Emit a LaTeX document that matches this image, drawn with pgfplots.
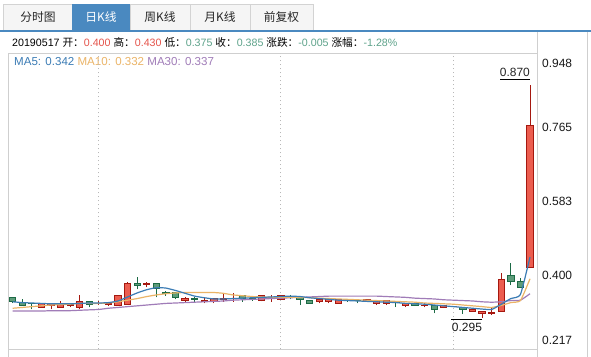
\documentclass[border=0pt]{standalone}
\usepackage{pgfplots}
\pgfplotsset{compat=1.18}
\usepackage{pgfplotstable}
\usepackage{fontspec}
\setmainfont{Liberation Sans}
\newfontfamily\cjk{Noto Sans CJK SC}

\definecolor{upfill}{HTML}{EC5D4F}
\definecolor{updraw}{HTML}{A5180F}
\definecolor{dnfill}{HTML}{5E9C7A}
\definecolor{dndraw}{HTML}{1C6A45}
\definecolor{mafive}{HTML}{3B7CB5}
\definecolor{maten}{HTML}{EBB467}
\definecolor{mathirty}{HTML}{A07CB8}
\definecolor{tabblue}{HTML}{4A89C0}
\definecolor{tabbg}{HTML}{F5F5F5}
\definecolor{tabline}{HTML}{D3D3D3}
\definecolor{frameline}{HTML}{CFCFCF}
\definecolor{infored}{HTML}{E5544B}
\definecolor{infogrn}{HTML}{5EA38B}

% daily candles: index, open, high, low, close
\pgfplotstableread{
i o h l c
1 0.345 0.347 0.331 0.334
2 0.332 0.340 0.324 0.325
3 0.330 0.332 0.315 0.329
4 0.320 0.331 0.320 0.330
5 0.325 0.331 0.315 0.330
6 0.320 0.336 0.319 0.330
7 0.326 0.331 0.320 0.328
8 0.320 0.351 0.315 0.334
9 0.334 0.335 0.320 0.327
10 0.329 0.335 0.327 0.331
11 0.327 0.333 0.324 0.330
12 0.324 0.351 0.323 0.350
13 0.327 0.384 0.326 0.380
14 0.380 0.396 0.365 0.374
15 0.377 0.382 0.370 0.379
16 0.380 0.381 0.345 0.366
17 0.356 0.361 0.349 0.355
18 0.357 0.359 0.340 0.344
19 0.338 0.345 0.334 0.341
20 0.341 0.345 0.334 0.339
21 0.335 0.343 0.330 0.338
22 0.334 0.343 0.330 0.342
23 0.340 0.355 0.334 0.342
24 0.341 0.355 0.334 0.343
25 0.350 0.351 0.334 0.343
26 0.343 0.345 0.336 0.341
27 0.336 0.351 0.335 0.350
28 0.342 0.352 0.334 0.344
29 0.340 0.351 0.339 0.350
30 0.346 0.351 0.340 0.345
31 0.345 0.346 0.326 0.340
32 0.336 0.337 0.329 0.330
33 0.334 0.341 0.330 0.340
34 0.334 0.341 0.330 0.340
35 0.330 0.341 0.329 0.340
36 0.340 0.341 0.334 0.338
37 0.338 0.341 0.330 0.337
38 0.334 0.341 0.333 0.340
39 0.330 0.337 0.326 0.336
40 0.330 0.337 0.326 0.336
41 0.333 0.336 0.321 0.332
42 0.325 0.331 0.321 0.330
43 0.330 0.331 0.325 0.326
44 0.324 0.330 0.320 0.326
45 0.326 0.327 0.305 0.315
46 0.320 0.326 0.318 0.325
47 0.322 0.324 0.320 0.322
48 0.320 0.321 0.304 0.315
49 0.310 0.317 0.309 0.316
50 0.305 0.312 0.295 0.311
51 0.306 0.322 0.301 0.308
52 0.310 0.405 0.309 0.390
53 0.400 0.430 0.375 0.385
54 0.384 0.392 0.369 0.370
55 0.419 0.870 0.418 0.770
}\kdata

\pgfplotstableread{
i v
1 0.334
2 0.332
3 0.331
4 0.330
5 0.329
6 0.329
7 0.329
8 0.330
9 0.331
10 0.331
11 0.332
12 0.336
13 0.346
14 0.356
15 0.364
16 0.369
17 0.368
18 0.362
19 0.355
20 0.348
21 0.344
22 0.341
23 0.341
24 0.342
25 0.343
26 0.344
27 0.345
28 0.346
29 0.347
30 0.348
31 0.347
32 0.344
33 0.342
34 0.340
35 0.338
36 0.337
37 0.336
38 0.335
39 0.334
40 0.333
41 0.332
42 0.330
43 0.329
44 0.328
45 0.326
46 0.324
47 0.322
48 0.320
49 0.318
50 0.316
51 0.315
52 0.328
53 0.342
54 0.352
55 0.445
}\mafivedata

\pgfplotstableread{
i v
1 0.318
2 0.320
3 0.322
4 0.324
5 0.326
6 0.327
7 0.328
8 0.330
9 0.330
10 0.330
11 0.331
12 0.334
13 0.338
14 0.342
15 0.347
16 0.351
17 0.354
18 0.356
19 0.357
20 0.357
21 0.357
22 0.357
23 0.355
24 0.351
25 0.349
26 0.347
27 0.346
28 0.345
29 0.345
30 0.345
31 0.345
32 0.344
33 0.343
34 0.342
35 0.341
36 0.340
37 0.339
38 0.338
39 0.337
40 0.336
41 0.335
42 0.334
43 0.333
44 0.331
45 0.330
46 0.329
47 0.328
48 0.326
49 0.324
50 0.322
51 0.320
52 0.325
53 0.332
54 0.337
55 0.391
}\matendata

\pgfplotstableread{
i v
1 0.311
2 0.311
3 0.311
4 0.311
5 0.312
6 0.312
7 0.312
8 0.313
9 0.314
10 0.315
11 0.318
12 0.320
13 0.322
14 0.324
15 0.326
16 0.328
17 0.330
18 0.331
19 0.332
20 0.333
21 0.334
22 0.335
23 0.336
24 0.338
25 0.339
26 0.340
27 0.341
28 0.342
29 0.343
30 0.344
31 0.345
32 0.346
33 0.347
34 0.348
35 0.348
36 0.348
37 0.348
38 0.348
39 0.348
40 0.347
41 0.346
42 0.345
43 0.343
44 0.342
45 0.341
46 0.339
47 0.338
48 0.337
49 0.336
50 0.334
51 0.333
52 0.334
53 0.337
54 0.338
55 0.354
}\mathirtydata

\pgfplotsset{
  upc wick/.style={draw=updraw, line width=1bp},
  upc body/.style={draw=updraw, fill=upfill, line width=1bp, line join=miter},
  dnc wick/.style={draw=dndraw, line width=1bp},
  dnc body/.style={draw=dndraw, fill=dnfill, line width=1bp, line join=miter},
}

\begin{document}
\begin{tikzpicture}
\path[use as bounding box] (0,0) rectangle (591bp,-357bp);
\fill[white] (0,0) rectangle (591bp,-357bp);

\begin{scope}[x=1bp, y=-1bp]
  % tabs
  \draw[tabline, fill=tabbg] (3.5,4.5) rectangle (72,30);
  \fill[tabblue] (72,4.5) rectangle (130,30);
  \draw[tabline, fill=tabbg] (130,4.5) rectangle (190,30);
  \draw[tabline, fill=tabbg] (190,4.5) rectangle (250,30);
  \draw[tabline, fill=tabbg] (250,4.5) rectangle (313,30);
  \fill[tabblue] (0,29.5) rectangle (591,32);
  \begin{scope}[every node/.style={font=\cjk\fontsize{11.8}{13}\selectfont, inner sep=0pt}]
    \node[text=black!85] at (38,17) {分时图};
    \node[text=white] at (101,17) {日K线};
    \node[text=black!85] at (160,17) {周K线};
    \node[text=black!85] at (220,17) {月K线};
    \node[text=black!85] at (281.5,17) {前复权};
  \end{scope}
  % frame
  \draw[frameline] (8.5,53) -- (8.5,357);
  \draw[frameline] (8.5,53.5) -- (537,53.5);
  \draw[frameline] (8.5,349.5) -- (537,349.5);
  \draw[frameline] (537.5,32) -- (537.5,357);
  \draw[frameline] (587.5,32) -- (587.5,357);
  % info line
  \node[anchor=base west, inner sep=0pt, font=\fontsize{10.7}{12}\selectfont] at (12,46.3)
    {20190517 {\cjk 开：}\textcolor{infored}{0.400} {\cjk 高：}\textcolor{infored}{0.430} {\cjk 低：}\textcolor{infogrn}{0.375} {\cjk 收：}\textcolor{infogrn}{0.385} {\cjk 涨跌：}\textcolor{infogrn}{-0.005} {\cjk 涨幅：}\textcolor{infogrn}{-1.28\%}};
  % MA legend line
  \node[anchor=base west, inner sep=0pt, font=\fontsize{11.6}{13}\selectfont] at (14,65.2)
    {\textcolor{mafive}{MA5: 0.342} \textcolor{maten}{MA10: 0.332} \textcolor{mathirty}{MA30: 0.337}};
\end{scope}

\begin{axis}[
  at={(8bp,-349bp)}, anchor=south west,
  scale only axis, width=529bp, height=296bp,
  xmin=0.51, xmax=55.73, ymin=0.217, ymax=0.9505,
  axis line style={draw=none},
  major tick length=0pt,
  xtick={10,29,47}, xticklabels={},
  xmajorgrids, grid style={dash pattern=on 1bp off 3bp, black!28, line width=1bp},
  ytick={0.217,0.400,0.583,0.765,0.948},
  yticklabel pos=right,
  yticklabel style={anchor=west, inner sep=0pt, xshift=5bp, text=black!90,
    font=\fontsize{12}{14}\selectfont,
    /pgf/number format/.cd, fixed, fixed zerofill, precision=3, assume math mode=true},
  yticklabels={,0.400,0.583,0.765,},
]
\pgfplotsinvokeforeach{0,...,54}{
  \pgfplotstablegetelem{#1}{i}\of\kdata \let\ki\pgfplotsretval
  \pgfplotstablegetelem{#1}{o}\of\kdata \let\ko\pgfplotsretval
  \pgfplotstablegetelem{#1}{h}\of\kdata \let\kh\pgfplotsretval
  \pgfplotstablegetelem{#1}{l}\of\kdata \let\kl\pgfplotsretval
  \pgfplotstablegetelem{#1}{c}\of\kdata \let\kc\pgfplotsretval
  \pgfmathtruncatemacro\kup{\kc>=\ko}
  \ifnum\kup=1 \def\kst{upc}\else\def\kst{dnc}\fi
  \pgfmathsetmacro\xa{\ki-0.33}
  \pgfmathsetmacro\xb{\ki+0.33}
  \edef\temp{\noexpand\addplot[\kst\space wick] coordinates {(\ki,\kl) (\ki,\kh)};
    \noexpand\addplot[\kst\space body] coordinates {(\xa,\ko) (\xb,\ko) (\xb,\kc) (\xa,\kc)} -- cycle;}
  \temp
}
\addplot[mathirty, line width=1.2bp, smooth, tension=0.3] table[x=i, y=v] {\mathirtydata};
\addplot[maten, line width=1.2bp, smooth, tension=0.3] table[x=i, y=v] {\matendata};
\addplot[mafive, line width=1.2bp, smooth, tension=0.3] table[x=i, y=v] {\mafivedata};

\draw[black, line width=0.9bp] ([yshift=6.2bp]axis cs:55,0.870) -- ([yshift=6.2bp, xshift=-30bp]axis cs:55,0.870);
\node[anchor=base east, inner sep=0pt, yshift=8.5bp, text=black!85, font=\fontsize{12}{14}\selectfont] at (axis cs:55,0.870) {0.870};
\draw[black, line width=0.9bp] ([yshift=-2bp]axis cs:50,0.295) -- ([yshift=-2bp, xshift=-31bp]axis cs:50,0.295);
\node[anchor=base east, inner sep=0pt, yshift=-14bp, text=black!90, font=\fontsize{12}{14}\selectfont] at (axis cs:50,0.295) {0.295};
\end{axis}

\begin{scope}[x=1bp, y=-1bp, every node/.style={anchor=base west, inner sep=0pt, text=black!90, font=\fontsize{12}{14}\selectfont}]
  \node at (542,67.5) {0.948};
  \node at (542,344.5) {0.217};
\end{scope}
\end{tikzpicture}
\end{document}
